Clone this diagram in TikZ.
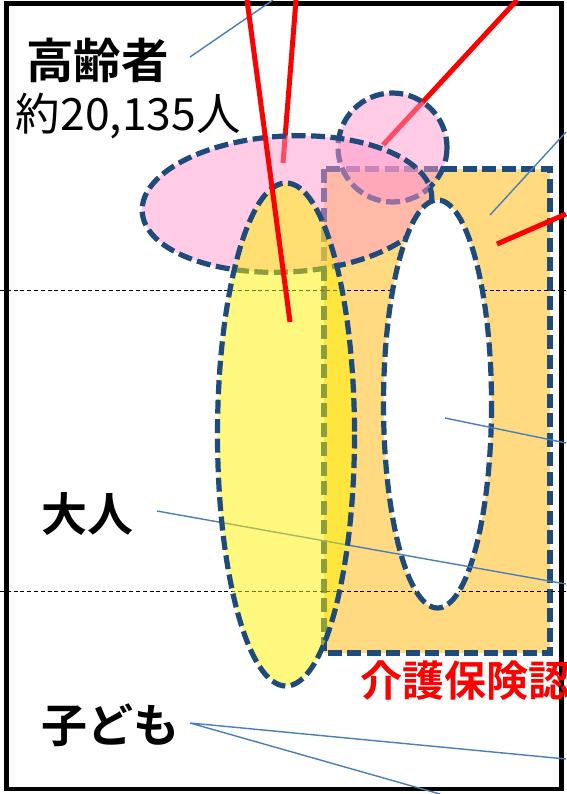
\documentclass[tikz,border=0pt]{standalone}
\usepackage{fontspec}
\newfontfamily\cjk{Noto Sans CJK JP}[BoldFont={Noto Sans CJK JP Bold}]
\definecolor{dkblue}{HTML}{1F4A7C}
\definecolor{rectfill}{HTML}{FFDA80}
\definecolor{pinkc}{HTML}{FF99CC}
\definecolor{callblue}{HTML}{4A7EBB}
\definecolor{redc}{HTML}{FF0000}
\tikzset{
  dashborder/.style={draw=dkblue, line width=5.2pt, dash pattern=on 14pt off 5.5pt},
  hline/.style={draw=black, line width=1.4pt, dash pattern=on 4pt off 2.8pt},
  callout/.style={draw=callblue, line width=1.4pt},
  redline/.style={draw=redc, line width=5pt},
  lbl/.style={inner sep=0pt, outer sep=0pt, anchor=west},
}
\begin{document}
\begin{tikzpicture}[x=1pt,y=-1pt]
\useasboundingbox (0,0) rectangle (566,794);
\fill[white] (0,0) rectangle (566,794);
% frame
\draw[black, line width=4.5pt] (6.3,3.5) rectangle (561.7,789);
% care rectangle
\draw[dashborder, fill=rectfill] (324,169) rectangle (550,653);
% horizontal dashed lines
\coordinate (h1l) at (0,290.5); \coordinate (h1r) at (566,290.5);
\coordinate (h2l) at (0,591.5); \coordinate (h2r) at (566,591.5);
\draw[hline] (h1l) -- (h1r);
\draw[hline] (h2l) -- (h2r);
% red lines under shapes
\coordinate (r3a) at (517,0); \coordinate (r3b) at (383,145);
\coordinate (r2a) at (296,0); \coordinate (r2b) at (283,163);
\draw[redline] (r3a) -- (r3b);
\draw[redline] (r2a) -- (r2b);
% pink circle
\draw[dashborder, fill=pinkc, fill opacity=0.5] (392.5,147.5) circle [radius=54.5];
% pink ellipse
\draw[dashborder, fill=pinkc, fill opacity=0.5, shift={(287,204)}, rotate=3] (0,0) ellipse [x radius=145, y radius=68];
% white ellipse
\draw[dashborder, fill=white] (437.5,404) ellipse [x radius=54, y radius=204];
% callout lines
\coordinate (b1a) at (190,57); \coordinate (b1b) at (273,0);
\coordinate (b2a) at (490,215); \coordinate (b2b) at (566,132);
\coordinate (b3a) at (445,418); \coordinate (b3b) at (566,443);
\coordinate (b4a) at (157,511); \coordinate (b4b) at (566,584);
\coordinate (b5a) at (190,723); \coordinate (b5b) at (566,759); \coordinate (b5c) at (440,794);
\draw[callout] (b1a) -- (b1b);
\draw[callout] (b2a) -- (b2b);
\draw[callout] (b3a) -- (b3b);
\draw[callout] (b4a) -- (b4b);
\draw[callout] (b5b) -- (b5a) -- (b5c);
% yellow ellipse
\draw[dashborder, fill=yellow, fill opacity=0.5] (286,434.5) ellipse [x radius=68.5, y radius=251.5];
% red lines on top
\coordinate (r1a) at (247,0); \coordinate (r1b) at (290,322);
\coordinate (r4a) at (566,214); \coordinate (r4b) at (497,244);
\draw[redline] (r1a) -- (r1b);
\draw[redline] (r4a) -- (r4b);
% labels
\node[lbl, font=\cjk\bfseries\fontsize{47.5}{50}\selectfont] (koreisha) at (26,60.5) {高齢者};
\node[lbl, font=\cjk\fontsize{44.5}{48}\selectfont] (yaku) at (16,116.5) {約20,135人};
\node[lbl, font=\cjk\bfseries\fontsize{46}{50}\selectfont] (otona) at (41,513.5) {大人};
\node[lbl, font=\cjk\bfseries\fontsize{46}{50}\selectfont] (kodomo) at (41,725) {子ども};
\node[lbl, text=redc, font=\cjk\bfseries\fontsize{42}{46}\selectfont] (kaigo) at (360,681) {介護保険認};
\end{tikzpicture}
\end{document}
